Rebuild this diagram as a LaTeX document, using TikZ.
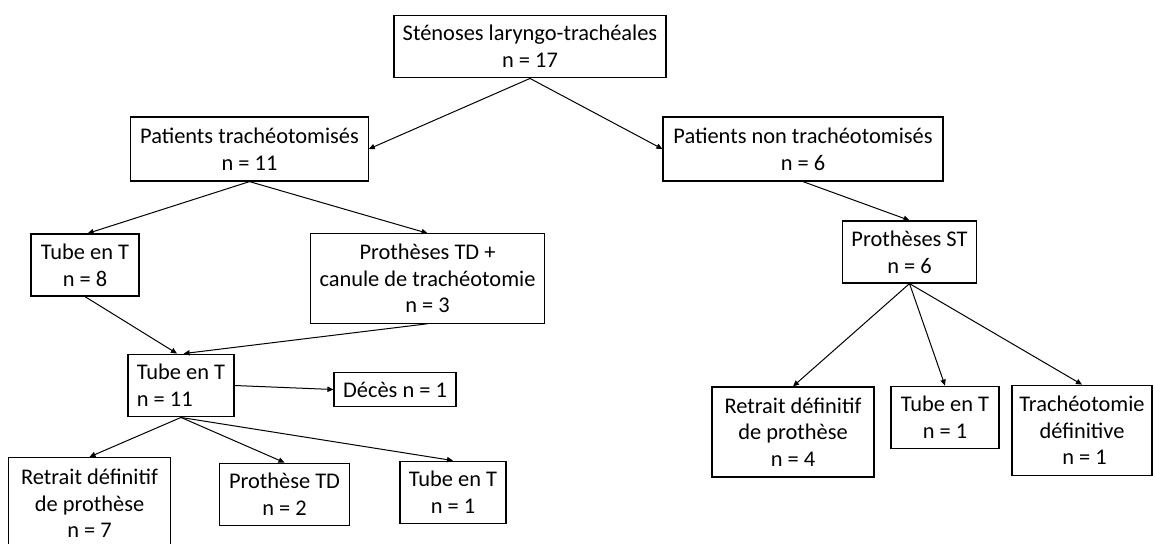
\documentclass[tikz,border=0pt]{standalone}
\usepackage{fontspec}
\setmainfont{Carlito}
\usetikzlibrary{arrows.meta}

\tikzset{every picture/.style={line width=0.75pt}}
\tikzset{
  box/.style={draw, line width=0.9pt, inner sep=0pt, align=center, font=\fontsize{16.8}{20}\selectfont},
  flow/.style={-{Triangle[length=4.5pt,width=4pt]}, line width=0.75pt}
}

\begin{document}
\begin{tikzpicture}[x=0.75pt,y=0.75pt,yscale=-1]
%set diagram frame 1155 x 543
\clip (0,0) rectangle (1155,543);

% Text Node
\draw (530,46.5) node [box, minimum width=204pt, minimum height=47pt] (root) {Sténoses laryngo-trachéales\\n = 17};
% Text Node
\draw (249.5,149) node [box, minimum width=178pt, minimum height=48pt] (trach) {Patients trachéotomisés\\n = 11};
% Text Node
\draw (803,149) node [box, minimum width=210pt, minimum height=48pt] (nontrach) {Patients non trachéotomisés\\n = 6};
% Text Node
\draw (85,265) node [box, minimum width=81pt, minimum height=46.5pt] (tubeA) {Tube en T\\n = 8};
% Text Node
\draw (427.5,278.5) node [box, minimum width=176pt, minimum height=67pt] (protTD) {Prothèses TD +\\canule de trachéotomie\\n = 3};
% Text Node
\draw (909.5,252) node [box, minimum width=101pt, minimum height=46.5pt] (protST) {Prothèses ST\\n = 6};
% Text Node
\draw (181,385.5) node [box, align=left, minimum width=79.5pt, minimum height=47pt] (tubeB) {Tube en T\\n = 11};
% Text Node
\draw (395,389.5) node [box, minimum width=91.5pt, minimum height=26pt] (deces) {Décès n = 1};
% Text Node
\draw (89.5,503.5) node [box, minimum width=121pt, minimum height=69pt] (retraitA) {Retrait définitif\\de prothèse\\n = 7};
% Text Node
\draw (284.5,494.5) node [box, minimum width=97pt, minimum height=47pt] (protTDb) {Prothèse TD\\n = 2};
% Text Node
\draw (453,492.5) node [box, minimum width=79.5pt, minimum height=47pt] (tubeC) {Tube en T\\n = 1};
% Text Node
\draw (793,432) node [box, minimum width=121.5pt, minimum height=67.5pt] (retraitB) {Retrait définitif\\de prothèse\\n = 4};
% Text Node
\draw (945,417.5) node [box, minimum width=81pt, minimum height=47pt] (tubeD) {Tube en T\\n = 1};
% Text Node
\draw (1082,430.5) node [box, minimum width=105pt, minimum height=68pt] (trachdef) {Trachéotomie\\définitive\\~n = 1};

%Straight Lines
\draw [flow] (root.south) -- (trach.east);
\draw [flow] (root.south) -- (nontrach.west);
\draw [flow] (trach.south) -- ([xshift=2pt]tubeA.north);
\draw [flow] (trach.south) -- (protTD.north);
\draw [flow] (nontrach.south) -- (protST.north);
\draw [flow] (tubeA.south) -- ([xshift=-3pt]tubeB.north);
\draw [flow] (protTD.south) -- ([xshift=2pt]tubeB.north);
\draw [flow] (tubeB.east) -- (deces.west);
\draw [flow] (tubeB.south) -- (retraitA.north);
\draw [flow] (tubeB.south) -- (protTDb.north);
\draw [flow] (tubeB.south) -- (tubeC.north);
\draw [flow] (protST.south) -- (retraitB.north);
\draw [flow] (protST.south) -- (tubeD.north);
\draw [flow] (protST.south) -- (trachdef.north);

\end{tikzpicture}
\end{document}
